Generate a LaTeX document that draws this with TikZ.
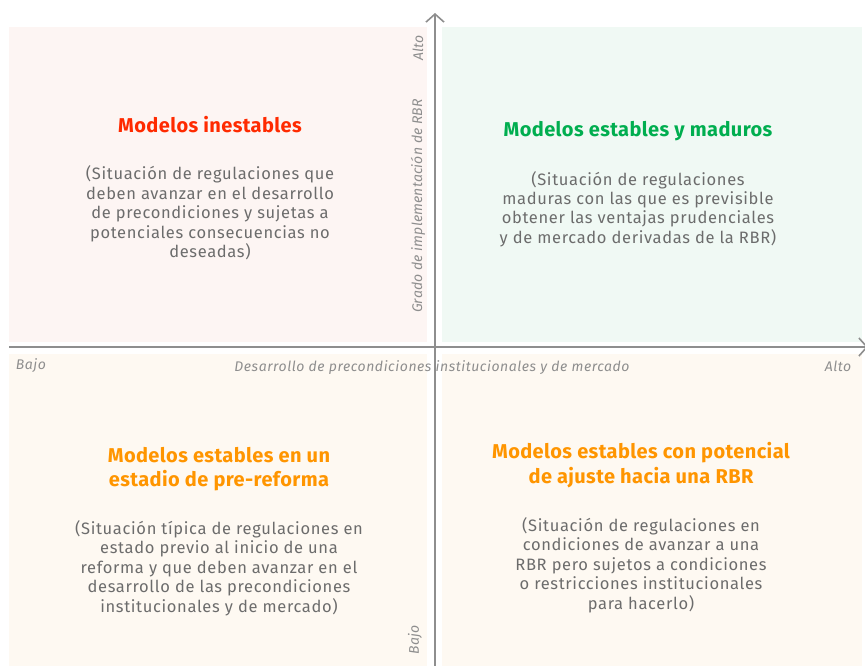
\documentclass[tikz,border=0pt]{standalone}
\usepackage{fontspec}
\setmainfont{Fira Sans}
\usetikzlibrary{arrows.meta}

\definecolor{inestable}{HTML}{FF2A00}
\definecolor{maduro}{HTML}{00AE4F}
\definecolor{prereforma}{HTML}{FF9500}
\definecolor{fondoRojo}{HTML}{FDF5F3}
\definecolor{fondoVerde}{HTML}{F0F9F4}
\definecolor{fondoCrema}{HTML}{FEF9F2}
\definecolor{textoGris}{HTML}{6C6C6C}
\definecolor{ejeGris}{HTML}{8E8E8E}

\tikzset{
  titulo/.style={font=\fontsize{20}{24.5}\selectfont\bfseries\addfontfeature{LetterSpace=2}, align=center},
  cuerpo/.style={font=\fontsize{16.5}{19.4}\selectfont\addfontfeature{LetterSpace=4}, text=textoGris, align=center},
  etiqueta/.style={font=\fontsize{14}{16}\selectfont\itshape\addfontfeature{LetterSpace=4}, text=ejeGris, inner sep=0pt},
  etiquetaV/.style={font=\fontsize{14}{16}\selectfont\itshape\addfontfeature{LetterSpace=1}, text=ejeGris, inner sep=0pt, rotate=90},
  eje/.style={draw=ejeGris, line width=1.6pt}
}

\begin{document}
\begin{tikzpicture}[x=1pt, y=-1pt]
            \useasboundingbox (0,0) rectangle (865,666);

            % Cuadrantes
            \fill[fondoRojo] (9,27) rectangle (427,342);
            \fill[fondoVerde] (442,27) rectangle (862,342);
            \fill[fondoCrema] (9,354) rectangle (427,666);
            \fill[fondoCrema] (442,354) rectangle (862,666);

            % Ejes
            \coordinate (xIni) at (9,347);
            \coordinate (xFin) at (868,347);
            \coordinate (yIni) at (435,666);
            \coordinate (yFin) at (435,13);
            \draw[eje, -{Straight Barb[length=8pt, width=18pt]}] (xIni) -- (xFin);
            \draw[eje, -{Straight Barb[length=8pt, width=18pt]}] (yIni) -- (yFin);

            % Etiquetas de los ejes
            \node[etiqueta] (xBajo) at (31,366) {Bajo};
            \node[etiqueta] (xAlto) at (838,366) {Alto};
            \node[etiqueta] (xTitulo) at (432,368) {Desarrollo de precondiciones institucionales y de mercado};
            \node[etiquetaV] (yAlto) at (418,48) {Alto};
            \node[etiquetaV] (yTitulo) at (418,206) {Grado de implementación de RBR};
            \node[etiquetaV] (yBajo) at (415,640) {Bajo};

            % Modelos inestables
            \node[titulo, text=inestable] (inestTit) at (210,125) {Modelos inestables};
            \node[cuerpo] (inestTxt) at (210,213) {(Situación de regulaciones que\\deben avanzar en el desarrollo\\de precondiciones y sujetas a\\potenciales consecuencias no\\deseadas)};

            % Modelos estables y maduros
            \node[titulo, text=maduro] (madTit) at (638,131) {Modelos estables y maduros};
            \node[cuerpo] (madTxt) at (638,209) {(Situación de regulaciones\\maduras con las que es previsible\\obtener las ventajas prudenciales\\y de mercado derivadas de la RBR)};

            % Modelos en pre-reforma
            \node[titulo, text=prereforma] (preTit) at (219,469) {Modelos estables en un\\estadio de pre-reforma};
            \node[cuerpo] (preTxt) at (219,568) {(Situación típica de regulaciones en\\estado previo al inicio de una\\reforma y que deben avanzar en el\\desarrollo de las precondiciones\\institucionales y de mercado)};

            % Modelos con potencial de ajuste
            \node[titulo, text=prereforma] (ajuTit) at (641,465) {Modelos estables con potencial\\de ajuste hacia una RBR};
            \node[cuerpo] (ajuTxt) at (641,565) {(Situación de regulaciones en\\condiciones de avanzar a una\\RBR pero sujetos a condiciones\\o restricciones institucionales\\para hacerlo)};
\end{tikzpicture}
\end{document}
